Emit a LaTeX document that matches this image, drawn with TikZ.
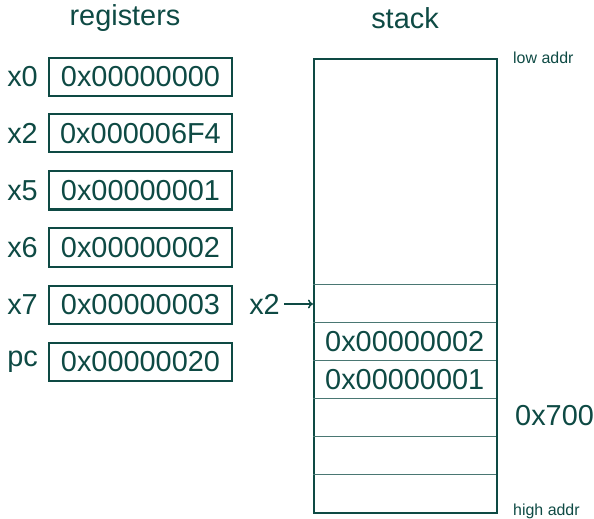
\documentclass[tikz,border=0pt]{standalone}
\usepackage{fontspec}
\setmainfont{Liberation Sans}
\usetikzlibrary{arrows.meta}
\definecolor{ink}{HTML}{0E4A44}
\begin{document}
\begin{tikzpicture}[x=1bp,y=-1bp,
  every node/.style={text=ink, inner sep=0pt},
  big/.style={font=\fontsize{29}{33}\selectfont},
  small/.style={font=\fontsize{16}{19}\selectfont},
  regbox/.style={draw=ink, line width=2bp, minimum width=183bp, minimum height=38bp, big},
  reglabel/.style={big, anchor=east},
  cellline/.style={draw=ink!75, line width=1bp}]
\useasboundingbox (0,0) rectangle (594,519);
\node[big] (regtitle) at (125,18) {registers};
\node[big] (stacktitle) at (405,18) {stack};
% registers
\node[regbox] (r0) at (140.5,77) {0x00000000};
\node[regbox] (r2) at (140.5,133.5) {0x000006F4};
\node[regbox] (r5) at (140.5,190.5) {0x00000001};
\node[regbox] (r6) at (140.5,247.5) {0x00000002};
\node[regbox] (r7) at (140.5,304.5) {0x00000003};
\node[regbox] (rpc) at (140.5,361.5) {0x00000020};
\node[reglabel] (l0) at ([xshift=-10bp]r0.west) {x0};
\node[reglabel] (l2) at ([xshift=-10bp]r2.west) {x2};
\node[reglabel] (l5) at ([xshift=-10bp]r5.west) {x5};
\node[reglabel] (l6) at ([xshift=-10bp]r6.west) {x6};
\node[reglabel] (l7) at ([xshift=-10bp]r7.west) {x7};
\node[reglabel] (lpc) at ([xshift=-10bp]rpc.west) {pc};
% stack
\node[draw=ink, line width=2bp, minimum width=183bp, minimum height=454bp, anchor=north west] (stack) at (313,58) {};
\foreach \yy in {284,322.5,360.5,398.5,436.5,474.5}
  \draw[cellline] (313,\yy) -- (496,\yy);
\node[big, anchor=west] (s1) at (325,341.5) {0x00000002};
\node[big, anchor=west] (s2) at (325,379.5) {0x00000001};
\node[big, anchor=west] (addr) at (515,416) {0x700};
\node[small, anchor=west] (low) at (513,58) {low addr};
\node[small, anchor=west] (high) at (513,511) {high addr};
\node[big, anchor=east] (x2p) at (280,304) {x2};
\draw[ink, line width=1.5bp, -{To[length=5bp,width=9bp]}] (x2p.east) ++(4bp,0) -- (stack.west |- x2p.east);
\end{tikzpicture}
\end{document}
